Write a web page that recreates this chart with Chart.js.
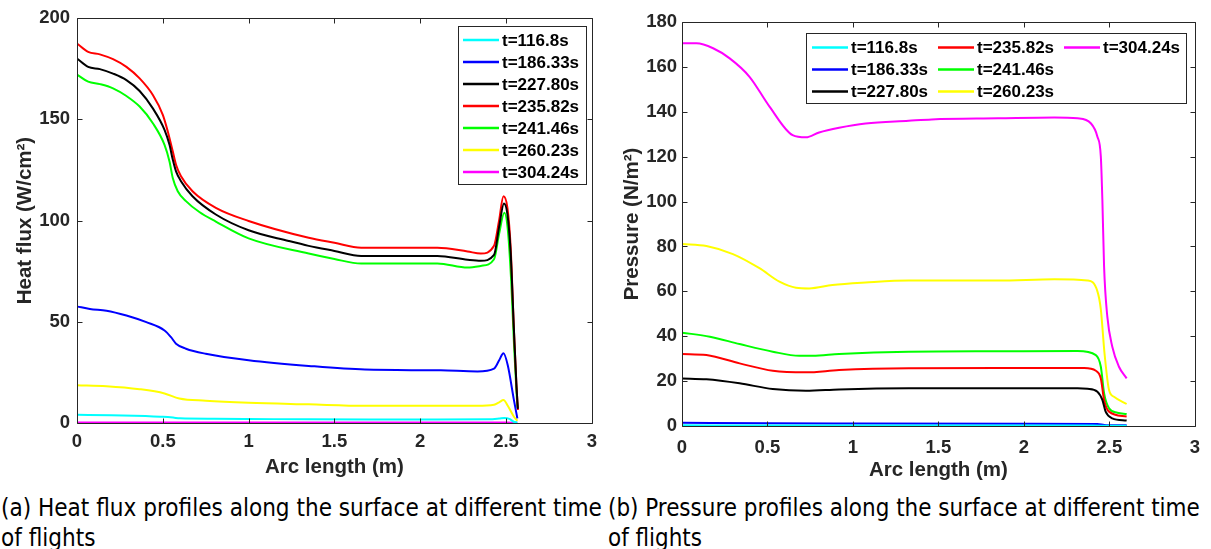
<!DOCTYPE html>
<html>
<head>
<meta charset="utf-8">
<script src="https://cdn.jsdelivr.net/npm/chart.js@4.4.0/dist/chart.umd.min.js"></script>
<style>
  body { margin: 0; background: #fff; width: 1211px; height: 549px; overflow: hidden; position: relative; }
  canvas { position: absolute; top: 0; }
  #heatChart { left: 0; }
  #pressChart { left: 605px; }
  .cap { position: absolute; top: 493px; font-family: "DejaVu Sans Condensed", "DejaVu Sans", sans-serif; font-size: 20px; line-height: 30px; color: #000; white-space: nowrap; }
  #capA { left: 1px; }
  #capB { left: 608px; }
</style>
</head>
<body>
<canvas id="heatChart" width="605" height="490"></canvas>
<canvas id="pressChart" width="606" height="490"></canvas>
<div class="cap" id="capA"><span>(a) Heat flux profiles along the surface at different time</span><br>of flights</div>
<div class="cap" id="capB"><span>(b) Pressure profiles along the surface at different time</span><br>of flights</div>
<script>
// legend labels, one per time of flight
const timeLabels = ['t=116.8s', 't=186.33s', 't=227.80s', 't=235.82s', 't=241.46s', 't=260.23s', 't=304.24s']
const lineColors = ['#00ffff', '#0000ff', '#000000', '#ff0000', '#00ff00', '#ffff00', '#ff00ff']

const xTickValues = [0, 0.5, 1, 1.5, 2, 2.5, 3]
const heatTickValues = [0, 50, 100, 150, 200]
const pressTickValues = [0, 20, 40, 60, 80, 100, 120, 140, 160, 180]

// heat flux (W/cm2) vs arc length (m), [x, y]
const heat116 = [[0,4.1],[0.2,3.8],[0.4,3.4],[0.5,3.1],[0.56,2.7],[0.6,2.3],[0.8,2.1],[1.0,2.0],[1.35,1.8],[1.7,1.7],[2.1,1.7],[2.4,1.8],[2.46,2.2],[2.49,2.5],[2.52,2.0],[2.545,0.6],[2.566,0.3]]
const heat186 = [[0,57.6],[0.075,56.3],[0.172,55.5],[0.288,53.1],[0.404,49.8],[0.51,45.7],[0.548,42.4],[0.577,39.2],[0.635,36.7],[0.75,34.2],[1.0,31],[1.35,28.2],[1.678,26.4],[2.12,26],[2.334,25.5],[2.43,26.9],[2.46,31],[2.485,34.4],[2.51,28.5],[2.546,11.3],[2.566,2.3]]
const heat227 = [[0,180],[0.065,175.9],[0.133,174.8],[0.21,172.6],[0.288,169.4],[0.365,164],[0.442,155.4],[0.51,144.8],[0.539,137.4],[0.558,130.1],[0.577,124.3],[0.606,119.4],[0.673,112],[0.809,103],[1.0,95.2],[1.234,89.9],[1.35,87.5],[1.5,85],[1.656,82.5],[2.1,82.5],[2.276,80.6],[2.353,80.1],[2.43,83],[2.459,96.5],[2.488,108.4],[2.508,103],[2.527,84],[2.546,46],[2.561,18],[2.569,7]]
const heat235 = [[0,187.4],[0.065,183.3],[0.133,182.1],[0.21,179.7],[0.288,175.9],[0.365,170.2],[0.442,162],[0.5,152.2],[0.529,144],[0.558,134.2],[0.577,127.6],[0.606,121.9],[0.673,114.5],[0.809,106.3],[1.0,99.8],[1.35,91.5],[1.5,89],[1.656,86.6],[2.1,86.6],[2.276,84.7],[2.353,83.7],[2.43,87.5],[2.459,99.8],[2.485,112],[2.508,106.3],[2.527,86.6],[2.546,45.7],[2.561,17.8],[2.569,6.4]]
const heat241 = [[0,172.1],[0.065,168.6],[0.133,167.4],[0.21,165.3],[0.288,161.5],[0.365,156.3],[0.442,148.1],[0.51,137.4],[0.539,129.2],[0.558,121],[0.587,114.5],[0.635,109.6],[0.713,104.2],[0.809,99.5],[1.0,91.2],[1.35,83.7],[1.5,81],[1.656,78.8],[2.1,78.8],[2.276,76.8],[2.353,77.6],[2.43,80.9],[2.459,93.2],[2.49,103.8],[2.511,94.8],[2.53,70],[2.547,37.5],[2.566,7.5]]
const heat260 = [[0,18.7],[0.172,18.2],[0.365,16.7],[0.51,14.6],[0.596,12.1],[0.75,11],[1.0,10],[1.35,9.2],[1.678,8.5],[2.33,8.5],[2.43,9.0],[2.46,10.2],[2.485,11.3],[2.51,8.5],[2.546,3.1],[2.566,1.1]]
const heat304 = [[0,0.3],[0.5,0.3],[1,0.2],[2,0.2],[2.5,0.2],[2.566,0.1]]

// pressure (N/m2) vs arc length (m), [x, y]
const press116 = [[0,0.3],[0.5,0.2],[1,0.2],[2,0.2],[2.4,0.2],[2.5,0.1],[2.601,0.1]]
const press186 = [[0,1.5],[0.5,1.2],[1,1.1],[2,1.0],[2.43,0.9],[2.47,0.4],[2.5,0.3],[2.601,0.3]]
const press227 = [[0,21.2],[0.143,20.8],[0.337,19],[0.531,16.5],[0.725,15.7],[0.919,16.3],[1.326,16.8],[1.849,16.8],[2.314,16.8],[2.372,16.6],[2.43,15.3],[2.459,11.6],[2.478,6.4],[2.517,3.4],[2.601,2.4]]
const press235 = [[0,32.1],[0.143,31.6],[0.337,27.9],[0.531,24.6],[0.725,23.9],[0.919,24.9],[1.326,25.7],[1.849,25.8],[2.353,25.8],[2.421,24.6],[2.45,21.2],[2.469,11.6],[2.498,6.4],[2.601,4.2]]
const press241 = [[0,41.6],[0.163,39.8],[0.337,36.5],[0.531,33.1],[0.686,31.3],[0.764,31.3],[0.919,32.1],[1.326,33.1],[1.849,33.3],[2.314,33.4],[2.421,31.6],[2.45,26.4],[2.469,14.6],[2.498,7.9],[2.547,5.9],[2.601,5.3]]
const press260 = [[0,81.1],[0.143,80.2],[0.298,76.6],[0.453,70.3],[0.57,64.3],[0.667,61.6],[0.744,61.3],[0.88,62.8],[1.074,63.9],[1.326,64.8],[1.849,64.8],[2.178,65.4],[2.372,64.8],[2.43,60],[2.45,52],[2.472,32],[2.498,16],[2.527,13],[2.601,9.8]]
const press304 = [[0,170.5],[0.085,170.5],[0.182,168.3],[0.279,163.8],[0.395,155.6],[0.512,142.3],[0.647,129.6],[0.725,128.6],[0.802,130.8],[0.919,132.9],[1.074,134.8],[1.326,136],[1.461,136.6],[1.849,137.1],[2.178,137.5],[2.314,137.1],[2.391,134.9],[2.43,128.9],[2.45,120],[2.459,100.7],[2.469,71],[2.488,48.7],[2.517,35.3],[2.556,26.4],[2.601,21.2]]

const axisColor = '#262626'
const fontFamily = '"Liberation Sans", Arial, Helvetica, sans-serif'
const tickFont = { family: fontFamily, size: 18.5, weight: 'bold' }
const titleFont = { family: fontFamily, size: 20.5, weight: 'bold' }

function makeDatasets(seriesList) {
  return seriesList.map((pts, i) => ({
    label: timeLabels[i],
    data: pts.map(p => ({ x: p[0], y: p[1] })),
    borderColor: lineColors[i],
    backgroundColor: lineColors[i],
    borderWidth: 2,
    pointRadius: 0,
    fill: false,
    cubicInterpolationMode: 'monotone'
  }))
}

// matlab style box with inward ticks on all four sides
const matlabFrame = {
  id: 'matlabFrame',
  afterDatasetsDraw(chart) {
    const { ctx, chartArea: a, scales: { x, y } } = chart
    const L = Math.round(a.left) + 0.5, R = Math.round(a.right) + 0.5
    const T = Math.round(a.top) + 0.5, B = Math.round(a.bottom) + 0.5
    ctx.save()
    ctx.strokeStyle = axisColor
    ctx.lineWidth = 1
    ctx.beginPath()
    x.ticks.forEach(t => {
      const px = Math.round(x.getPixelForValue(t.value)) + 0.5
      ctx.moveTo(px, B); ctx.lineTo(px, B - 5)
      ctx.moveTo(px, T); ctx.lineTo(px, T + 5)
    })
    y.ticks.forEach(t => {
      const py = Math.round(y.getPixelForValue(t.value)) + 0.5
      ctx.moveTo(L, py); ctx.lineTo(L + 5, py)
      ctx.moveTo(R, py); ctx.lineTo(R - 5, py)
    })
    ctx.rect(L, T, R - L, B - T)
    ctx.stroke()
    ctx.restore()
  }
}

// boxed legend inside the axes, filled column by column
const boxLegend = {
  id: 'boxLegend',
  afterDraw(chart, args, o) {
    const ctx = chart.ctx
    ctx.save()
    ctx.fillStyle = '#fff'
    ctx.fillRect(o.left, o.top, o.width, o.height)
    ctx.strokeStyle = axisColor
    ctx.lineWidth = 1
    ctx.strokeRect(o.left + 0.5, o.top + 0.5, o.width, o.height)
    ctx.font = 'bold 17px ' + fontFamily
    ctx.textBaseline = 'middle'
    chart.data.datasets.forEach((ds, i) => {
      const col = Math.floor(i / o.rows), row = i % o.rows
      const x0 = o.left + o.colX[col]
      const y0 = o.top + o.firstRow + row * o.rowH
      ctx.strokeStyle = ds.borderColor
      ctx.lineWidth = 2.5
      ctx.beginPath()
      ctx.moveTo(x0, y0); ctx.lineTo(x0 + o.lineLen, y0)
      ctx.stroke()
      ctx.fillStyle = '#000'
      ctx.fillText(ds.label, x0 + o.lineLen + 3, y0 + 1)
    })
    ctx.restore()
  }
}

function makeChart(id, series, yTicks, yMax, yTitle, lay) {
  const ctx = document.getElementById(id).getContext('2d')
  return new Chart(ctx, {
    type: 'line',
    data: { datasets: makeDatasets(series) },
    plugins: [matlabFrame, boxLegend],
    options: {
      responsive: false,
      animation: false,
      devicePixelRatio: 1,
      layout: { padding: { top: lay.top, right: lay.right, left: 0, bottom: 0 } },
      plugins: {
        legend: { display: false },
        tooltip: { enabled: false },
        boxLegend: lay.legend
      },
      scales: {
        x: {
          type: 'linear',
          min: 0,
          max: 3,
          afterBuildTicks: s => { s.ticks = xTickValues.map(v => ({ value: v })) },
          afterFit: s => { s.height = lay.xHeight },
          ticks: { font: tickFont, color: axisColor, padding: lay.xTickPad, maxRotation: 0, autoSkip: false, callback: v => String(v) },
          grid: { display: false, drawTicks: false },
          border: { display: false },
          title: { display: true, text: 'Arc length (m)', font: titleFont, color: axisColor, padding: { top: 0, bottom: lay.xTitlePad } }
        },
        y: {
          type: 'linear',
          min: 0,
          max: yMax,
          afterBuildTicks: s => { s.ticks = yTicks.map(v => ({ value: v })) },
          afterFit: s => { s.width = lay.yWidth },
          ticks: { font: tickFont, color: axisColor, padding: lay.yTickPad, autoSkip: false, callback: v => String(v) },
          grid: { display: false, drawTicks: false },
          border: { display: false },
          title: { display: true, text: yTitle, font: titleFont, color: axisColor, padding: { top: lay.yTitlePad, bottom: 0 } }
        }
      }
    }
  })
}

makeChart('heatChart', [heat116, heat186, heat227, heat235, heat241, heat260, heat304], heatTickValues, 200, 'Heat flux (W/cm²)', {
  top: 16, right: 10, xHeight: 67, yWidth: 77, xTickPad: 8, yTickPad: 7, xTitlePad: 10.7, yTitlePad: 12.7,
  legend: { left: 458, top: 26, width: 128, height: 158, rows: 7, colX: [5], rowH: 22, firstRow: 14, lineLen: 36 }
})

makeChart('pressChart', [press116, press186, press227, press235, press241, press260, press304], pressTickValues, 180, 'Pressure (N/m²)', {
  top: 22, right: 13, xHeight: 64, yWidth: 77, xTickPad: 11, yTickPad: 5, xTitlePad: 7.7, yTitlePad: 14.7,
  legend: { left: 201, top: 33, width: 380, height: 70, rows: 3, colX: [6, 132, 258], rowH: 22, firstRow: 14.5, lineLen: 36 }
})

// fit caption first lines to the reference widths
function fitCaption(id, target) {
  const el = document.getElementById(id)
  const span = el.querySelector('span')
  const w = span.getBoundingClientRect().width
  el.style.fontSize = (20 * target / w).toFixed(2) + 'px'
}
fitCaption('capA', 601)
fitCaption('capB', 592)
</script>
</body>
</html>
